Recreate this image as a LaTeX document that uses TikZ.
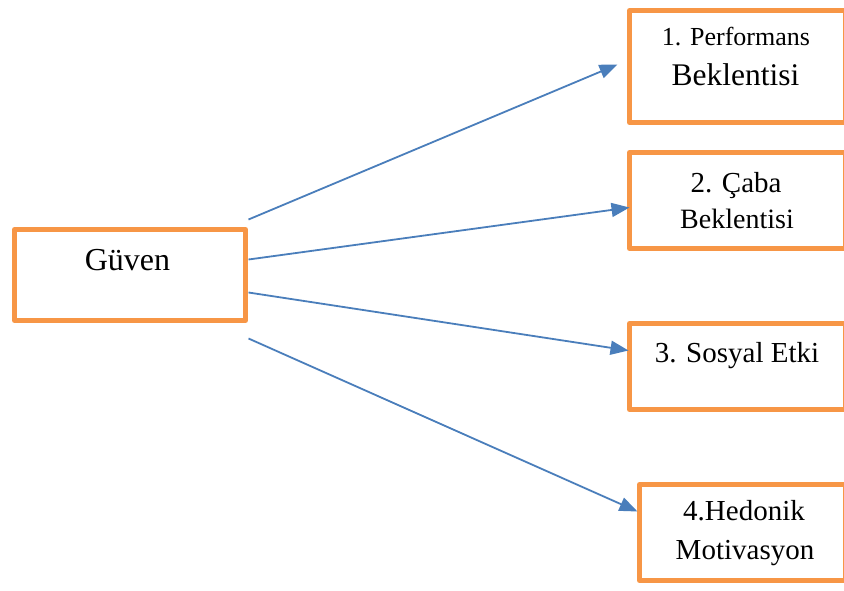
\documentclass[tikz,border=0pt]{standalone}
\usepackage{fontspec}
\setmainfont{Liberation Serif}
\usetikzlibrary{arrows.meta}
\definecolor{boxorange}{HTML}{F79646}
\definecolor{linkblue}{HTML}{4A7EBB}
\newcommand{\fsz}[1]{\fontsize{#1}{#1}\selectfont}
\begin{document}
\begin{tikzpicture}[x=1pt,y=-1pt,
  box/.style={draw=boxorange, line width=5pt, line join=round, fill=white, inner sep=0pt, anchor=north west},
  lbl/.style={anchor=base, inner sep=0pt},
  link/.style={draw=linkblue, line width=1.8pt, -{Triangle[length=18pt,width=14pt]}}]
\useasboundingbox (0,0) rectangle (844,590);

% source box
\node[box, minimum width=231pt, minimum height=91pt] (g) at (12,227) {};
\node[lbl, font=\fsz{32}] (tg) at (127.5,270) {Güven};

% target boxes
\node[box, minimum width=216pt, minimum height=112pt] (b1) at (627,8) {};
\node[lbl, font=\fsz{26}] (t1a) at (736,45) {1. Performans};
\node[lbl, font=\fsz{31.5}] (t1b) at (735.5,85) {Beklentisi};

\node[box, minimum width=216pt, minimum height=96pt] (b2) at (627,150) {};
\node[lbl, font=\fsz{29}] (t2a) at (736,192) {2. Çaba};
\node[lbl, font=\fsz{28}] (t2b) at (737,228) {Beklentisi};

\node[box, minimum width=216pt, minimum height=86pt] (b3) at (627,321) {};
\node[lbl, font=\fsz{29}] (t3) at (737,362) {3. Sosyal Etki};

\node[box, minimum width=206pt, minimum height=96pt] (b4) at (637,482) {};
\node[lbl, font=\fsz{29}] (t4a) at (744,520) {4.Hedonik};
\node[lbl, font=\fsz{29}] (t4b) at (745,559) {Motivasyon};

% connectors
\draw[link] ([xshift=0.5pt,yshift=55.5pt]g.east) -- ([xshift=-9.5pt,yshift=2pt]b1.west);
\draw[link] ([xshift=0.5pt,yshift=15.5pt]g.east) -- ([xshift=2.5pt,yshift=-7pt]b2.west);
\draw[link] ([xshift=0.5pt,yshift=-17.5pt]g.east) -- ([xshift=1.5pt,yshift=16pt]b3.west);
\draw[link] ([xshift=0.5pt,yshift=-63.5pt]g.east) -- ([xshift=0.5pt,yshift=21pt]b4.west);
\end{tikzpicture}
\end{document}
